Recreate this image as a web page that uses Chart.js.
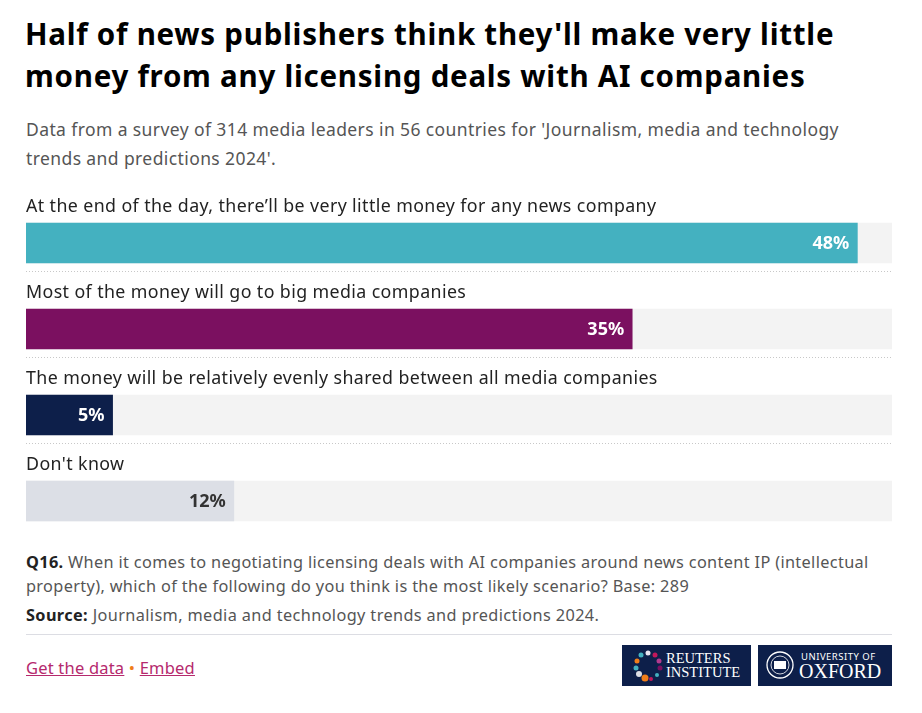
<!DOCTYPE html>
<html>
<head>
<meta charset="utf-8">
<script src="https://cdn.jsdelivr.net/npm/chart.js@4/dist/chart.umd.min.js"></script>
<style>
  body { margin: 0; background: #fff; font-family: "Noto Sans", "Open Sans", sans-serif; color: #222; }
  #page { position: relative; width: 922px; height: 713px; overflow: hidden; }
  .abs { position: absolute; }
  h1 { position: absolute; left: 25px; top: 13px; width: 860px; margin: 0; font-size: 29.5px; line-height: 42px; font-weight: 700; color: #000; letter-spacing: 0.75px; }
  #sub { left: 26px; top: 115px; width: 860px; font-size: 17.5px; line-height: 29px; color: #555; letter-spacing: 0.4px; }
  #chartbox { left: 26px; top: 180px; width: 866px; height: 364px; }
  #notes { left: 26px; top: 550px; width: 870px; font-size: 16.3px; line-height: 24px; color: #555; letter-spacing: 0.35px; }
  #source { left: 26px; top: 603px; width: 870px; font-size: 16.3px; line-height: 24px; color: #555; letter-spacing: 0.38px; }
  b { color: #222; }
  #rule { left: 26px; top: 634px; width: 866px; height: 1px; background: #dcdde3; }
  #links { left: 26px; top: 656px; font-size: 16.5px; color: #b5296d; letter-spacing: 0.2px; }
  #links span.u { text-decoration: underline; }
  #links span.dot { color: #f07d19; }
  .logo { top: 645px; height: 41px; background: #0d1f4a; color: #fff; font-family: "Liberation Serif", "DejaVu Serif", serif; }
</style>
</head>
<body>
<div id="page">
  <h1>Half of news publishers think they'll make very little money from any licensing deals with AI companies</h1>
  <div id="sub" class="abs">Data from a survey of 314 media leaders in 56 countries for 'Journalism, media and technology trends and predictions 2024'.</div>
  <div id="chartbox" class="abs"><canvas id="graph"></canvas></div>
  <div id="notes" class="abs"><b>Q16.</b> When it comes to negotiating licensing deals with AI companies around news content IP (intellectual property), which of the following do you think is the most likely scenario? Base: 289</div>
  <div id="source" class="abs"><b>Source:</b> Journalism, media and technology trends and predictions 2024.</div>
  <div id="rule" class="abs"></div>
  <div id="links" class="abs"><span class="u">Get the data</span> <span class="dot">•</span> <span class="u">Embed</span></div>
  <div class="abs logo" style="left:622px;width:129px;">
    <svg width="40" height="41" style="position:absolute;left:6px;top:0">
      <circle cx="20" cy="8" r="2.5" fill="#e9e3ef"/><circle cx="27" cy="10" r="2.5" fill="#c2185b"/>
      <circle cx="31" cy="16" r="2.5" fill="#b33a8e"/><circle cx="32" cy="23" r="2.5" fill="#7b1060"/>
      <circle cx="29" cy="30" r="2" fill="#44b1c0"/><circle cx="13" cy="10" r="2.5" fill="#44b1c0"/>
      <circle cx="9" cy="16" r="2.5" fill="#f07d19"/><circle cx="8" cy="23" r="2.5" fill="#44b1c0"/>
      <circle cx="11" cy="29" r="3" fill="#dcdfe6"/><circle cx="17" cy="33" r="3.5" fill="#f07d19"/>
      <circle cx="23" cy="34" r="2" fill="#c2185b"/>
    </svg>
    <div style="position:absolute;left:44px;top:6px;font-size:14.5px;line-height:14px;">REUTERS<br>INSTITUTE</div>
  </div>
  <div class="abs logo" style="left:758px;width:134px;">
    <svg width="34" height="41" style="position:absolute;left:5px;top:0">
      <circle cx="17" cy="20" r="13" fill="none" stroke="#fff" stroke-width="1.3"/>
      <circle cx="17" cy="20" r="9" fill="none" stroke="#fff" stroke-width="0.8"/>
      <rect x="11" y="16" width="12" height="8" fill="#fff"/>
    </svg>
    <div style="position:absolute;left:43px;top:5px;font-family:'Noto Sans',sans-serif;font-size:9.5px;letter-spacing:0.5px;">UNIVERSITY OF</div>
    <div style="position:absolute;left:41px;top:15px;font-size:20px;line-height:22px;">OXFORD</div>
  </div>
</div>
<script>
const categories = [
  "At the end of the day, there\u2019ll be very little money for any news company",
  "Most of the money will go to big media companies",
  "The money will be relatively evenly shared between all media companies",
  "Don't know"
];
const shares = [48, 35, 5, 12];
const barColors = ['#44b1c0', '#7b1060', '#0d1f4a', '#dcdfe6'];
const labelColors = ['#fff', '#fff', '#fff', '#333'];
const axisMax = 50;
const track = categories.map(() => axisMax);

const barText = {
  id: 'barText',
  afterDatasetsDraw(chart) {
    const ctx = chart.ctx;
    const meta = chart.getDatasetMeta(1);
    const area = chart.chartArea;
    ctx.save();
    meta.data.forEach((bar, i) => {
      const top = bar.y - bar.height / 2;
      const bottom = bar.y + bar.height / 2;
      // category label above the bar
      ctx.font = '17.8px "Noto Sans", sans-serif';
      ctx.letterSpacing = '0.4px';
      ctx.fillStyle = '#222';
      ctx.textAlign = 'left';
      ctx.textBaseline = 'middle';
      ctx.fillText(categories[i], area.left, top - 16);
      // value inside the bar
      ctx.font = 'bold 18px "Noto Sans", sans-serif';
      ctx.letterSpacing = '0px';
      ctx.fillStyle = labelColors[i];
      ctx.textAlign = 'right';
      ctx.fillText(shares[i] + '%', bar.x - 8, bar.y + 1);
      // dotted separator
      if (i < meta.data.length - 1) {
        ctx.strokeStyle = '#c8c8c8';
        ctx.lineWidth = 1;
        ctx.setLineDash([1, 2]);
        ctx.beginPath();
        ctx.moveTo(area.left, bottom + 8.5);
        ctx.lineTo(area.right, bottom + 8.5);
        ctx.stroke();
        ctx.setLineDash([]);
      }
    });
    ctx.restore();
  }
};

new Chart(document.getElementById('graph'), {
  type: 'bar',
  data: {
    labels: categories,
    datasets: [
      { data: track, backgroundColor: '#f3f3f3', barThickness: 40, grouped: false, order: 2 },
      { data: shares, backgroundColor: barColors, barThickness: 40, grouped: false, order: 1 }
    ]
  },
  options: {
    indexAxis: 'y',
    responsive: true,
    maintainAspectRatio: false,
    animation: false,
    layout: { padding: { top: 20, left: 0, right: 0, bottom: 0 } },
    plugins: { legend: { display: false }, tooltip: { enabled: false } },
    scales: {
      x: { display: false, min: 0, max: axisMax },
      y: { display: false }
    }
  },
  plugins: [barText]
});
</script>
</body>
</html>
